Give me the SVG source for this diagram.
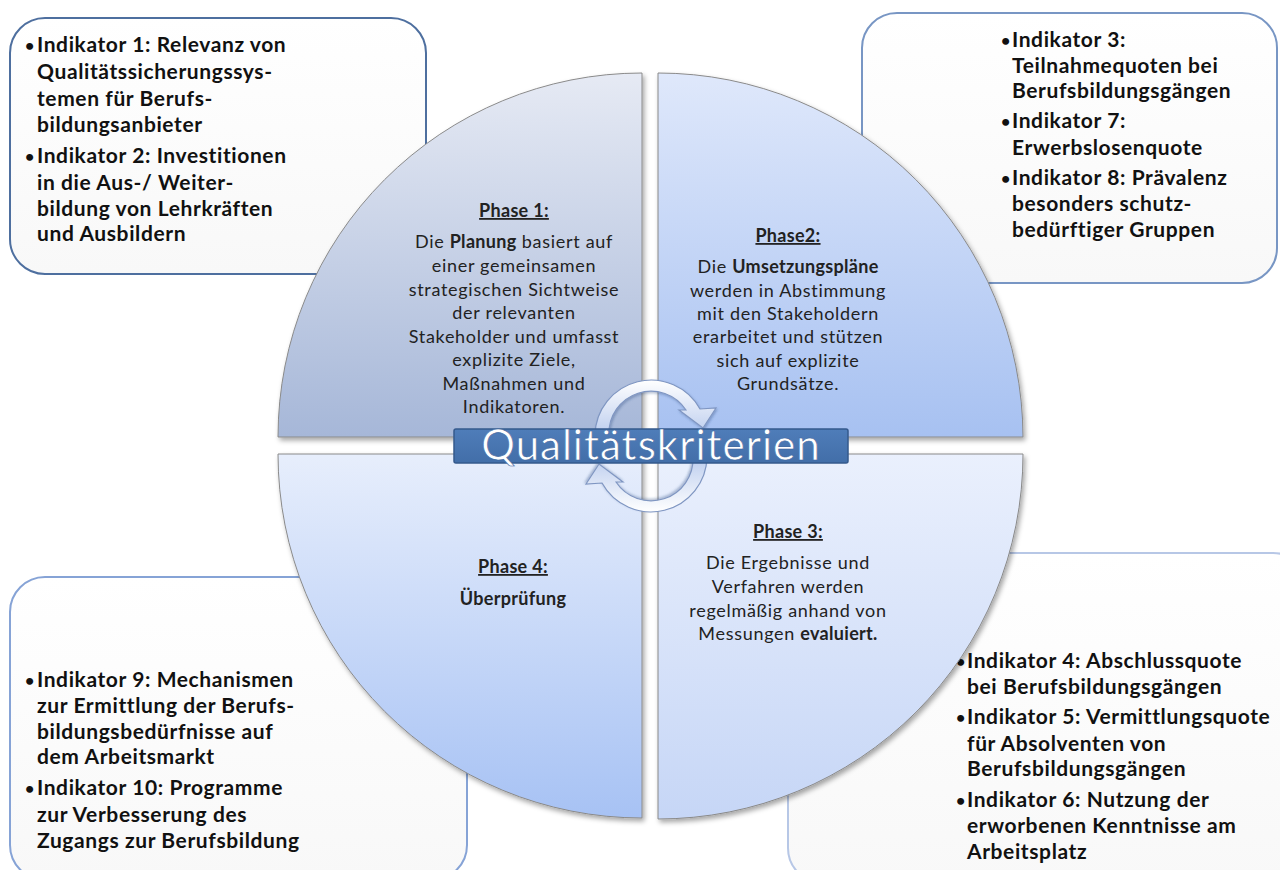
<svg xmlns="http://www.w3.org/2000/svg" width="1280" height="870" viewBox="0 0 1280 870">
<defs>
<linearGradient id="gQ1" x1="0" y1="0" x2="0" y2="1"><stop offset="0" stop-color="#e6eaf4"/><stop offset="1" stop-color="#a6b7d8"/></linearGradient>
<linearGradient id="gQ2" x1="0" y1="0" x2="0" y2="1"><stop offset="0" stop-color="#dfe8fb"/><stop offset="1" stop-color="#a7c1f1"/></linearGradient>
<linearGradient id="gQ3" x1="0" y1="0" x2="0" y2="1"><stop offset="0" stop-color="#eaf0fd"/><stop offset="1" stop-color="#c6d6f6"/></linearGradient>
<linearGradient id="gQ4" x1="0" y1="0" x2="0" y2="1"><stop offset="0" stop-color="#e7eefc"/><stop offset="1" stop-color="#a7c2f4"/></linearGradient>
<linearGradient id="gBox" x1="0" y1="0" x2="0" y2="1"><stop offset="0" stop-color="#ffffff"/><stop offset="1" stop-color="#f8f8f8"/></linearGradient>
<linearGradient id="gArr" x1="0" y1="0" x2="0" y2="1"><stop offset="0" stop-color="#ffffff"/><stop offset="1" stop-color="#bccdee"/></linearGradient>
<linearGradient id="gBan" x1="0" y1="0" x2="0" y2="1"><stop offset="0" stop-color="#4f7db9"/><stop offset="1" stop-color="#426ea8"/></linearGradient>
<filter id="sh" x="-10%" y="-10%" width="120%" height="120%"><feDropShadow dx="2" dy="3" stdDeviation="2.5" flood-color="#000" flood-opacity="0.35"/></filter>
<filter id="sh2" x="-20%" y="-20%" width="140%" height="140%"><feDropShadow dx="1" dy="1.5" stdDeviation="1.2" flood-color="#2a4a80" flood-opacity="0.35"/></filter>
</defs>
<style>
.box{fill:url(#gBox);stroke-width:2}
.ind{font-family:"Lato","Liberation Sans",sans-serif;font-size:21px;font-weight:bold;fill:#111;letter-spacing:0.6px}
.bu{font-size:16px;letter-spacing:0}
.q{stroke:#8a8a8a;stroke-width:1;filter:url(#sh)}
.ph{font-family:"Lato","Liberation Sans",sans-serif;font-size:18px;fill:#222;text-anchor:middle;letter-spacing:0.7px}
.hd{font-weight:bold;text-decoration:underline;letter-spacing:0.3px}
.b{font-weight:bold;letter-spacing:0.3px}
.arr{fill:url(#gArr);stroke:#7f96c2;stroke-width:1.2;filter:url(#sh2)}
</style>

<g id="box-tl">
<rect class="box" x="10" y="18" width="416" height="256" rx="35" stroke="#4e6f9f"/>
<text class="ind"><tspan class="bu" x="25" y="51">•</tspan><tspan x="37" y="52">Indikator 1: Relevanz von</tspan><tspan x="37" y="79">Qualitätssicherungssys-</tspan><tspan x="37" y="106">temen für Berufs-</tspan><tspan x="37" y="132">bildungsanbieter</tspan><tspan class="bu" x="25" y="162">•</tspan><tspan x="37" y="163">Indikator 2: Investitionen</tspan><tspan x="37" y="190">in die Aus-/ Weiter-</tspan><tspan x="37" y="216">bildung von Lehrkräften</tspan><tspan x="37" y="241">und Ausbildern</tspan></text>
</g>

<g id="box-tr">
<rect class="box" x="862" y="13" width="415" height="270" rx="35" stroke="#7896c4"/>
<text class="ind"><tspan class="bu" x="1001" y="46">•</tspan><tspan x="1012" y="47">Indikator 3:</tspan><tspan x="1012" y="73">Teilnahmequoten bei</tspan><tspan x="1012" y="98">Berufsbildungsgängen</tspan><tspan class="bu" x="1001" y="127">•</tspan><tspan x="1012" y="128">Indikator 7:</tspan><tspan x="1012" y="155">Erwerbslosenquote</tspan><tspan class="bu" x="1001" y="184">•</tspan><tspan x="1012" y="185">Indikator 8: Prävalenz</tspan><tspan x="1012" y="211">besonders schutz-</tspan><tspan x="1012" y="237">bedürftiger Gruppen</tspan></text>
</g>

<g id="box-bl">
<rect class="box" x="10" y="577" width="457" height="303" rx="35" stroke="#86a3d6"/>
<text class="ind"><tspan class="bu" x="25" y="686">•</tspan><tspan x="37" y="687">Indikator 9: Mechanismen</tspan><tspan x="37" y="713">zur Ermittlung der Berufs-</tspan><tspan x="37" y="739">bildungsbedürfnisse auf</tspan><tspan x="37" y="764">dem Arbeitsmarkt</tspan><tspan class="bu" x="25" y="794">•</tspan><tspan x="37" y="795">Indikator 10: Programme</tspan><tspan x="37" y="822">zur Verbesserung des</tspan><tspan x="37" y="848">Zugangs zur Berufsbildung</tspan></text>
</g>

<g id="box-br">
<rect class="box" x="788" y="553" width="520" height="330" rx="35" stroke="#b7c7e6"/>
<text class="ind"><tspan class="bu" x="956" y="667">•</tspan><tspan x="967" y="668">Indikator 4: Abschlussquote</tspan><tspan x="967" y="694">bei Berufsbildungsgängen</tspan><tspan class="bu" x="956" y="723">•</tspan><tspan x="967" y="724">Indikator 5: Vermittlungsquote</tspan><tspan x="967" y="751">für Absolventen von</tspan><tspan x="967" y="776">Berufsbildungsgängen</tspan><tspan class="bu" x="956" y="806">•</tspan><tspan x="967" y="807">Indikator 6: Nutzung der</tspan><tspan x="967" y="833">erworbenen Kenntnisse am</tspan><tspan x="967" y="859">Arbeitsplatz</tspan></text>
</g>

<g id="phase1">
<path class="q" d="M642,437 L278,437 A364,364 0 0 1 642,73 Z" fill="url(#gQ1)"/>
<text class="ph"><tspan class="hd" x="514" y="217">Phase 1:</tspan><tspan x="514" y="248">Die <tspan class="b">Planung</tspan> basiert auf</tspan><tspan x="514" y="272">einer gemeinsamen</tspan><tspan x="514" y="296">strategischen Sichtweise</tspan><tspan x="514" y="319">der relevanten</tspan><tspan x="514" y="343">Stakeholder und umfasst</tspan><tspan x="514" y="366">explizite  Ziele,</tspan><tspan x="514" y="390">Maßnahmen und</tspan><tspan x="514" y="413">Indikatoren.</tspan></text>
</g>

<g id="phase2">
<path class="q" d="M658,437 L658,73 A365,365 0 0 1 1023,437 Z" fill="url(#gQ2)"/>
<text class="ph"><tspan class="hd" x="788" y="242">Phase2:</tspan><tspan x="788" y="273">Die <tspan class="b">Umsetzungspläne</tspan></tspan><tspan x="788" y="297">werden in Abstimmung</tspan><tspan x="788" y="320">mit den Stakeholdern</tspan><tspan x="788" y="343">erarbeitet und stützen</tspan><tspan x="788" y="367">sich auf explizite</tspan><tspan x="788" y="390">Grundsätze.</tspan></text>
</g>

<g id="phase3">
<path class="q" d="M658,454 L1023,454 A365,365 0 0 1 658,819 Z" fill="url(#gQ3)"/>
<text class="ph"><tspan class="hd" x="788" y="538">Phase 3:</tspan><tspan x="788" y="569">Die Ergebnisse und</tspan><tspan x="788" y="593">Verfahren werden</tspan><tspan x="788" y="617">regelmäßig anhand von</tspan><tspan x="788" y="640">Messungen <tspan class="b">evaluiert.</tspan></tspan></text>
</g>

<g id="phase4">
<path class="q" d="M642,454 L642,818 A364,364 0 0 1 278,454 Z" fill="url(#gQ4)"/>
<text class="ph"><tspan class="hd" x="513" y="573">Phase 4:</tspan><tspan class="b" x="513" y="605">Überprüfung</tspan></text>
</g>

<g id="connectors">
<path class="arr" d="M595,435 A56,56 0 0 1 700,409 L716,408 L703,428 L679,410 L686,410 A42,42 0 0 0 609,435 Z"/>
<path class="arr" d="M595,435 A56,56 0 0 1 700,409 L716,408 L703,428 L679,410 L686,410 A42,42 0 0 0 609,435 Z" transform="rotate(180 651 446)"/>
</g>

<g id="center">
<rect x="454" y="429" width="394" height="34" fill="url(#gBan)" stroke="#34598c" stroke-width="1.5" rx="2"/>
<text x="651" y="460" text-anchor="middle" font-family="Lato, 'Liberation Sans', sans-serif" font-size="42" letter-spacing="1" fill="#ffffff" stroke="#3c66a0" stroke-width="0.6">Qualitätskriterien</text>
</g>
</svg>
